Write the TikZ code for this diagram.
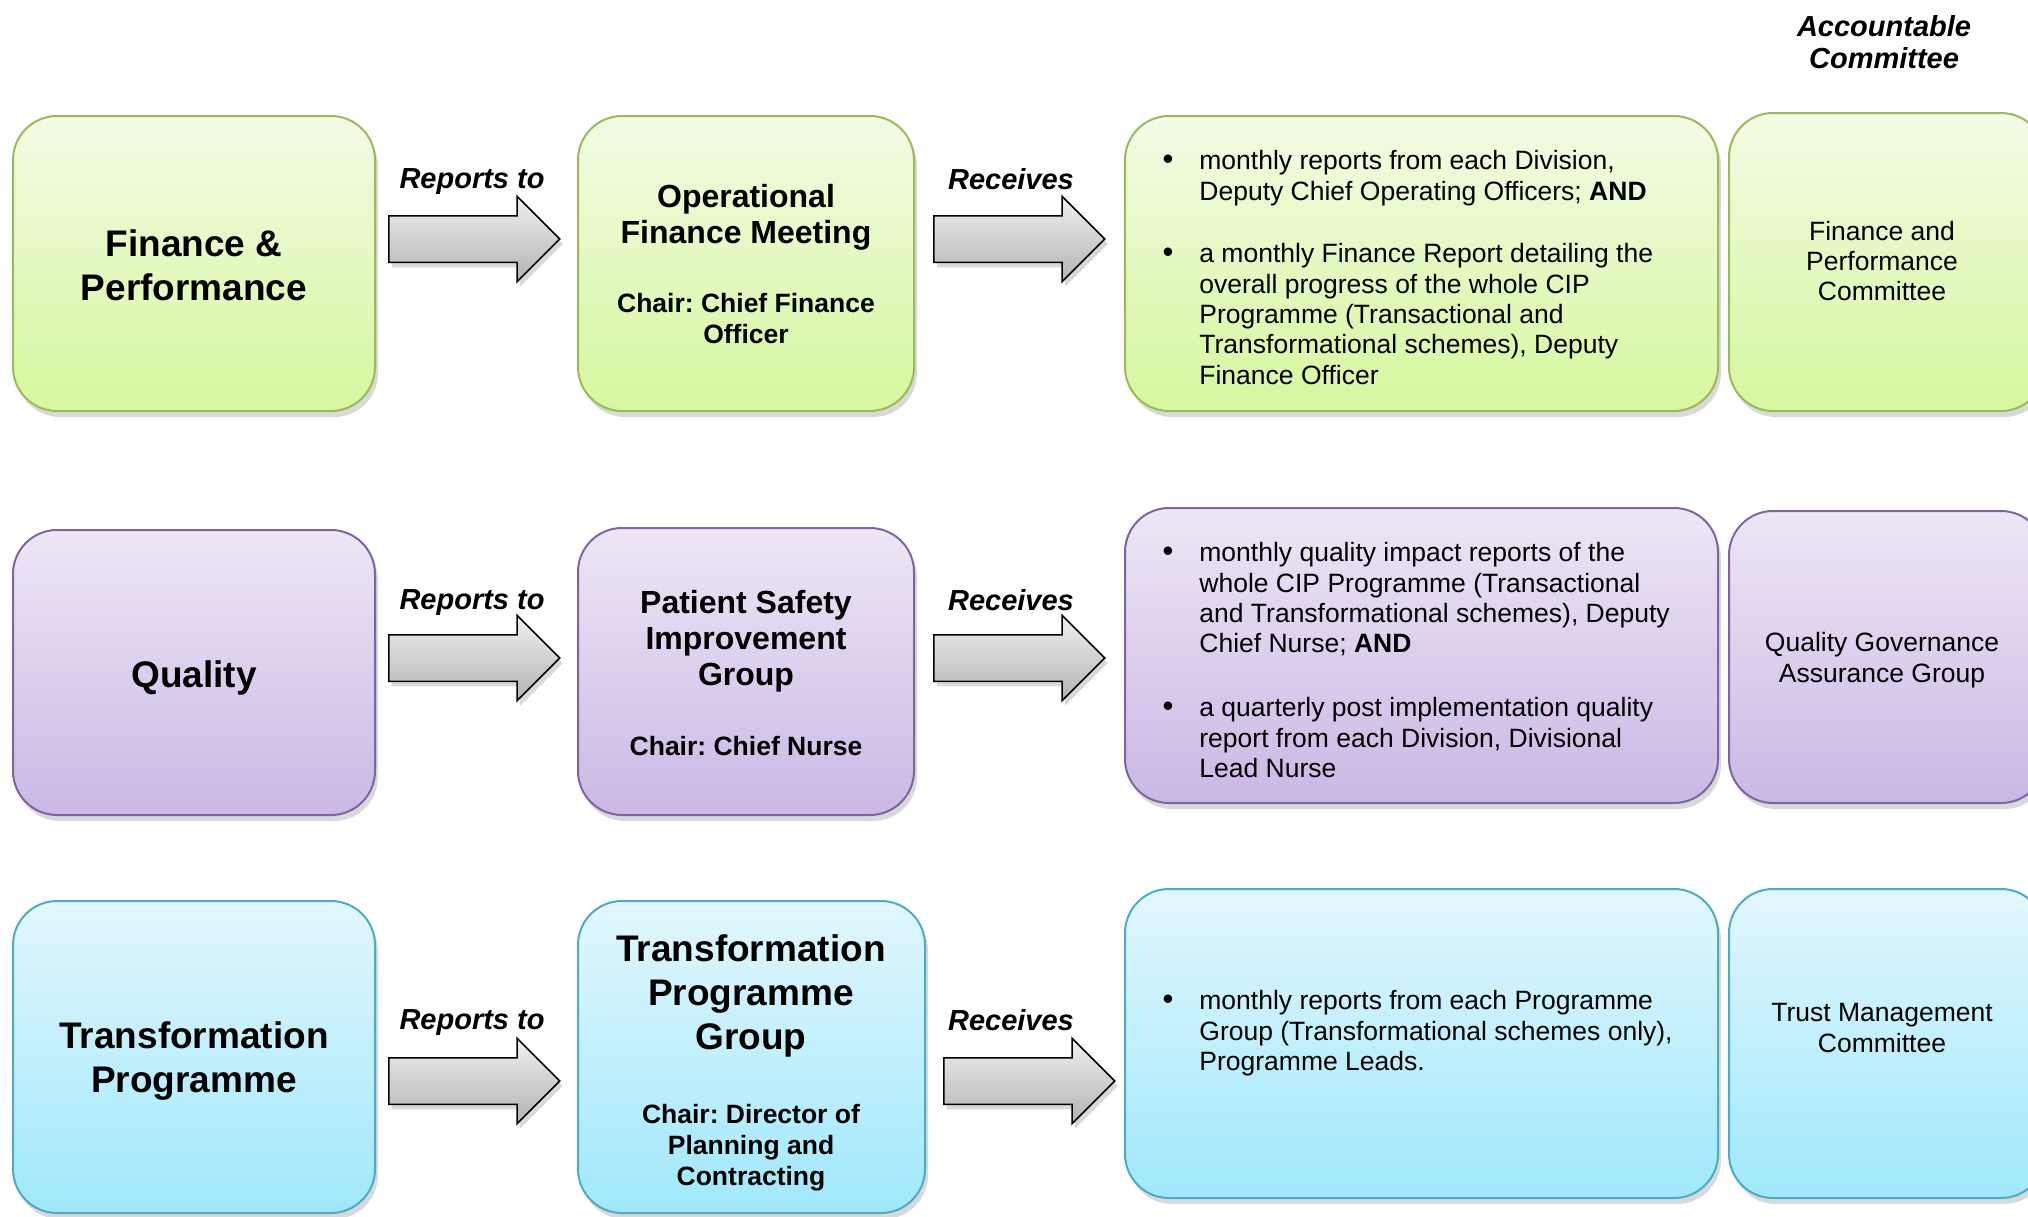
\documentclass[tikz,border=0pt]{standalone}
\usepackage{fontspec}
\setmainfont{Liberation Sans}
\usetikzlibrary{shapes.arrows,shadows,fit}
\definecolor{gtop}{RGB}{242,251,228}
\definecolor{gbot}{RGB}{214,247,158}
\definecolor{gbrd}{RGB}{155,187,89}
\definecolor{ptop}{RGB}{238,230,246}
\definecolor{pbot}{RGB}{202,184,228}
\definecolor{pbrd}{RGB}{128,100,162}
\definecolor{ctop}{RGB}{226,247,253}
\definecolor{cbot}{RGB}{160,232,252}
\definecolor{cbrd}{RGB}{75,172,198}
\frenchspacing
\tikzset{
  box/.style={rectangle, rounded corners=22pt, line width=1pt, inner sep=0pt,
    drop shadow={shadow xshift=1.5pt, shadow yshift=-3pt, opacity=0.3}},
  gbox/.style={box, draw=gbrd, top color=gtop, bottom color=gbot},
  pbox/.style={box, draw=pbrd, top color=ptop, bottom color=pbot},
  cbox/.style={box, draw=cbrd, top color=ctop, bottom color=cbot},
  bigt/.style={align=center, inner sep=0pt, font=\fontsize{18.5}{22}\selectfont\bfseries},
  medt/.style={align=center, inner sep=0pt, font=\fontsize{16}{18}\selectfont\bfseries},
  chairt/.style={align=center, inner sep=0pt, font=\fontsize{13.25}{15.5}\selectfont\bfseries},
  smt/.style={align=center, inner sep=0pt, font=\fontsize{13.25}{15.2}\selectfont},
  bullett/.style={align=left, inner sep=0pt, anchor=north west, font=\fontsize{13.25}{15.2}\selectfont},
  lab/.style={inner sep=0pt, align=center, font=\fontsize{14.5}{16}\selectfont\bfseries\itshape},
  blockarrow/.style={single arrow, draw=black, line width=0.75pt, top color=black!6, bottom color=black!30,
    minimum height=85.5pt, minimum width=42pt, single arrow head extend=9.75pt, single arrow tip angle=90,
    inner xsep=0pt, inner ysep=11.25pt, anchor=tail,
    drop shadow={shadow xshift=1.5pt, shadow yshift=-2.5pt, opacity=0.3}}
}
\newcommand{\bul}{\llap{{\fontsize{15.5}{15}\selectfont •}\hspace{13pt}}}
\begin{document}
\begin{tikzpicture}[x=0.5pt,y=0.5pt]
\useasboundingbox (0,0) rectangle (2028,-1216);
\clip (0,0) rectangle (2028,-1216);

% header
\node[lab] (acc) at (1884,-42) {Accountable\\Committee};

% ---------- row 1 ----------
\node[gbox, fit={(13,-116) (375,-411)}] (fa) {};
\node[gbox, fit={(578,-116) (914,-411)}] (fb) {};
\node[gbox, fit={(1125,-116) (1718,-411)}] (fc) {};
\node[gbox, fit={(1729,-113) (2045,-411)}] (fd) {};
\node[bigt] (fat) at (194,-265) {Finance \&\\Performance};
\node[medt] (fbt) at (746,-217) {Operational\\Finance Meeting};
\node[chairt] (fbc) at (746,-319) {Chair: Chief Finance\\Officer};
\node[bullett] (fc1) at (1199,-150) {\bul monthly reports from each Division,\\Deputy Chief Operating Officers; \textbf{AND}};
\node[bullett] (fc2) at (1199,-243) {\bul a monthly Finance Report detailing the\\overall progress of the whole CIP\\Programme (Transactional and\\Transformational schemes), Deputy\\Finance Officer};
\node[smt] (fdt) at (1882,-261) {Finance and\\Performance\\Committee};
\node[blockarrow] (fr1) at (388,-239) {};
\node[blockarrow] (fr2) at (933,-239) {};
\node[lab] (fl1) at (472,-182) {Reports to};
\node[lab] (fl2) at (1011,-179) {Receives};

% ---------- row 2 ----------
\node[pbox, fit={(13,-530) (375,-815)}] (qa) {};
\node[pbox, fit={(578,-528) (914,-815)}] (qb) {};
\node[pbox, fit={(1125,-508) (1718,-803)}] (qc) {};
\node[pbox, fit={(1729,-511) (2045,-803)}] (qd) {};
\node[bigt] (qat) at (194,-678) {Quality};
\node[medt] (qbt) at (746,-641) {Patient Safety\\Improvement\\Group};
\node[chairt] (qbc) at (746,-746) {Chair: Chief Nurse};
\node[bullett] (qc1) at (1199,-542) {\bul monthly quality impact reports of the\\whole CIP Programme (Transactional\\and Transformational schemes), Deputy\\Chief Nurse; \textbf{AND}};
\node[bullett] (qc2) at (1199,-697) {\bul a quarterly post implementation quality\\report from each Division, Divisional\\Lead Nurse};
\node[smt] (qdt) at (1882,-660) {Quality Governance\\Assurance Group};
\node[blockarrow] (qr1) at (388,-658) {};
\node[blockarrow] (qr2) at (933,-658) {};
\node[lab] (ql1) at (472,-603) {Reports to};
\node[lab] (ql2) at (1011,-600) {Receives};

% ---------- row 3 ----------
\node[cbox, fit={(13,-901) (375,-1213)}] (ta) {};
\node[cbox, fit={(578,-901) (925,-1213)}] (tb) {};
\node[cbox, fit={(1125,-889) (1718,-1198)}] (tc) {};
\node[cbox, fit={(1729,-889) (2045,-1198)}] (td) {};
\node[bigt] (tat) at (194,-1061) {Transformation\\Programme};
\node[bigt] (tbt) at (751,-996) {Transformation\\Programme\\Group};
\node[chairt] (tbc) at (751,-1148) {Chair: Director of\\Planning and\\Contracting};
\node[bullett] (tc1) at (1199,-990) {\bul monthly reports from each Programme\\Group (Transformational schemes only),\\Programme Leads.};
\node[smt] (tdt) at (1882,-1028) {Trust Management\\Committee};
\node[blockarrow] (tr1) at (388,-1081) {};
\node[blockarrow] (tr2) at (943,-1081) {};
\node[lab] (tl1) at (472,-1023) {Reports to};
\node[lab] (tl2) at (1011,-1020) {Receives};
\end{tikzpicture}
\end{document}
